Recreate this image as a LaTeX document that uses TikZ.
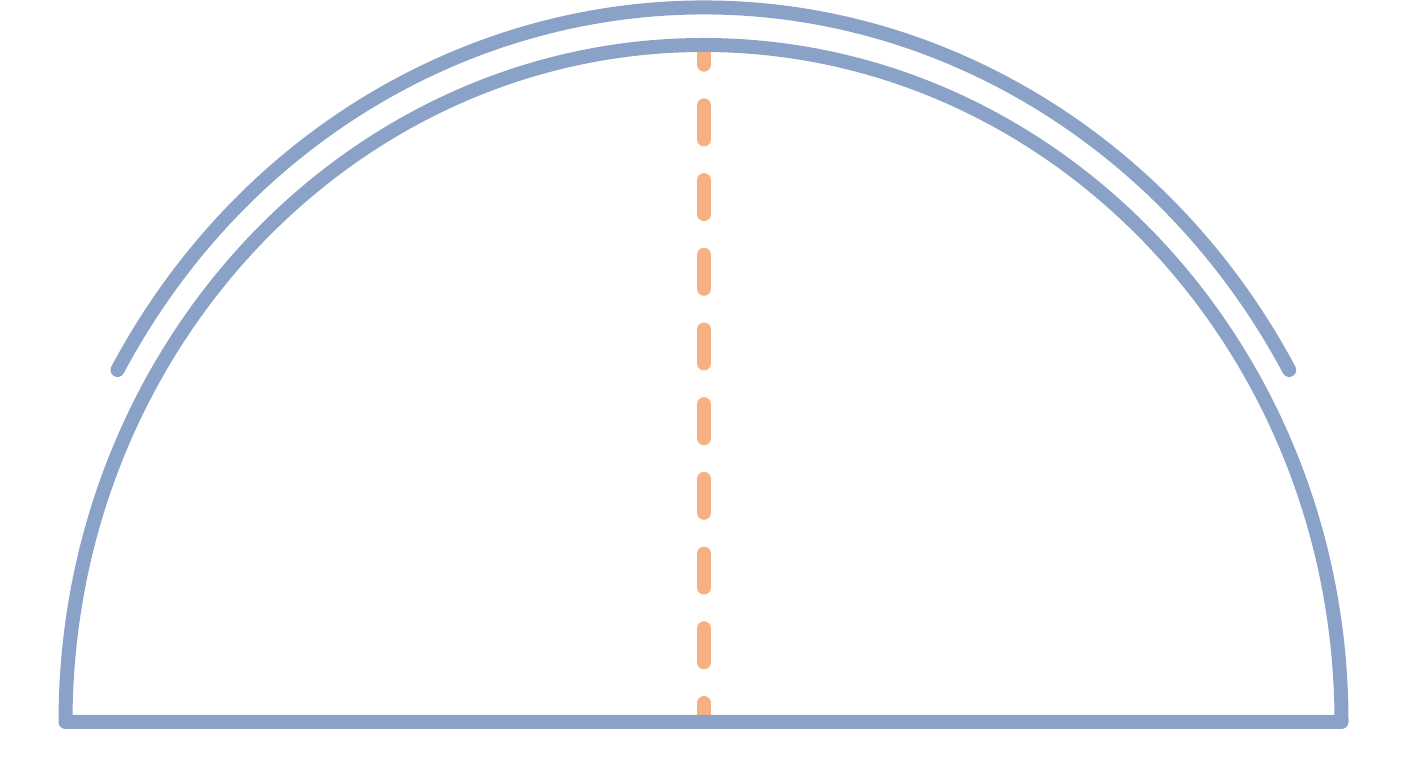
\documentclass[tikz,border=0pt]{standalone}
\definecolor{archblue}{RGB}{138,162,200}
\definecolor{axisorange}{RGB}{245,177,131}

\begin{document}
\begin{tikzpicture}[line cap=round,line join=round]

	\useasboundingbox (0,0) rectangle (14.08,7.68);

	\coordinate (left)	at (0.655,0.46);
	\coordinate (top)	at (7.04,7.23);
	\coordinate (foot)	at (7.04,0.52);
	\coordinate (outerstart)	at (1.175,3.98);

	% axis of symmetry
	\draw[axisorange, line width=0.14cm, dash pattern=on 0.34cm off 0.407cm, dash phase=0.143cm]	(top) -- (foot);

	% inner arch with base
	\draw[archblue, line width=0.14cm]	(left) arc[start angle=180, end angle=0, x radius=6.38, y radius=6.77] -- cycle;

	% outer arch
	\draw[archblue, line width=0.14cm]	(outerstart) arc[start angle=150.48, end angle=29.52, x radius=6.733, y radius=7.145];

\end{tikzpicture}
\end{document}
